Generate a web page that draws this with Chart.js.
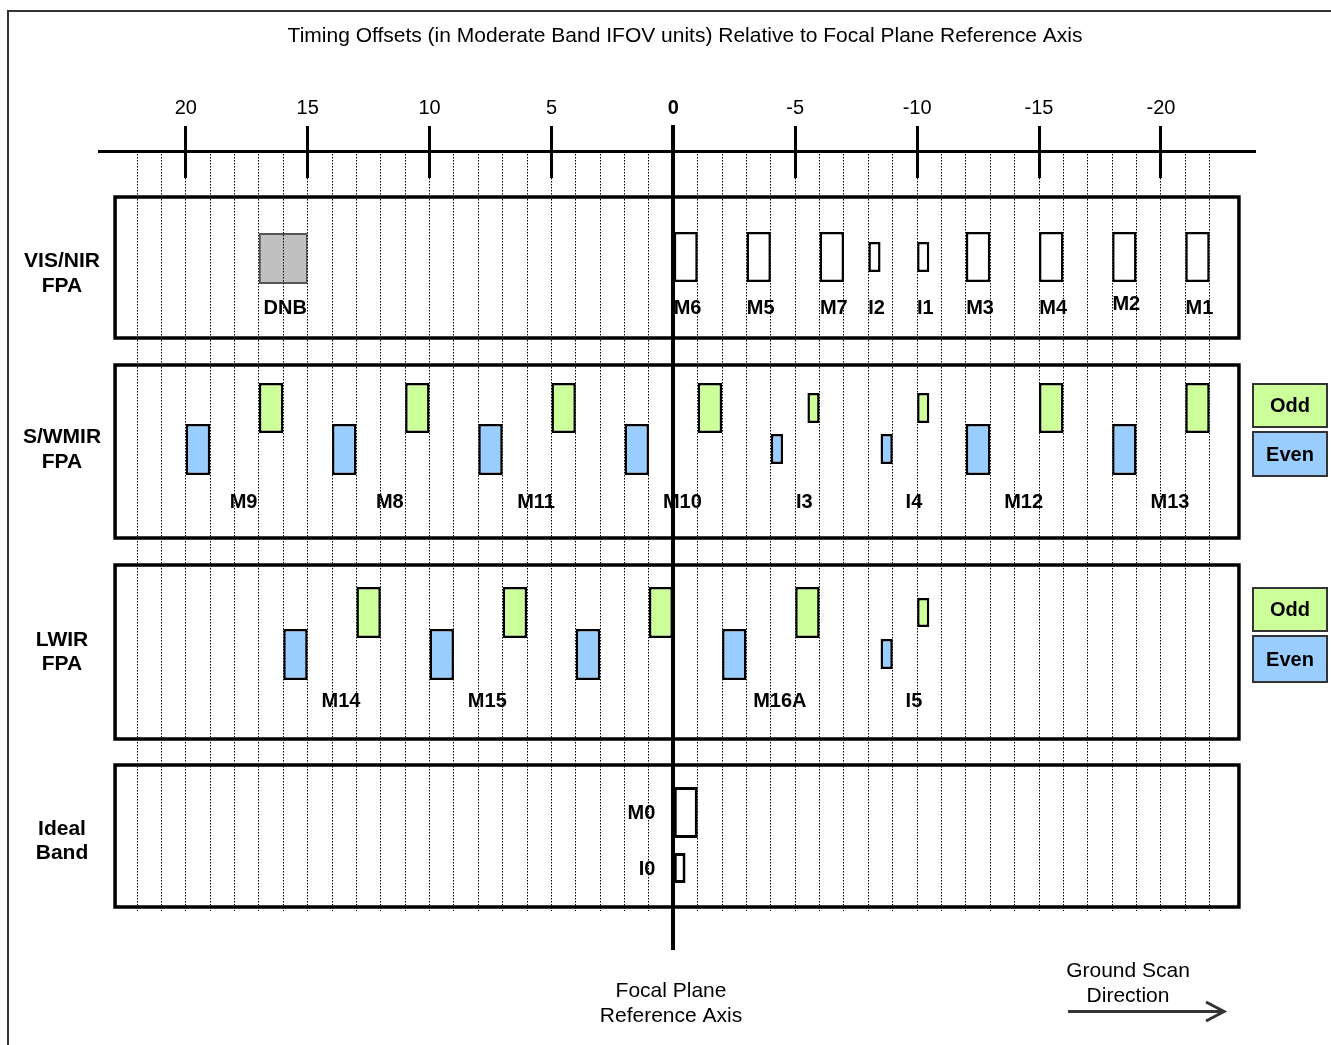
<!DOCTYPE html>
<html>
<head>
<meta charset="utf-8">
<title>Timing Offsets Relative to Focal Plane Reference Axis</title>
<script src="https://cdn.jsdelivr.net/npm/chart.js@4.4.0/dist/chart.umd.min.js"></script>
<style>
  html, body { margin: 0; padding: 0; background: #fff; }
  #wrap { width: 1331px; height: 1045px; }
</style>
</head>
<body>
<div id="wrap"><canvas id="fpaChart" width="1331" height="1045"></canvas></div>
<script>
// Offsets in moderate band IFOV units.
// Each detector column is given by its leading and trailing edge on the axis.

// VIS/NIR focal plane
const visBands = ['DNB', 'M6', 'M5', 'M7', 'I2', 'I1', 'M3', 'M4', 'M2', 'M1'];
const visFrom  = [17, 0, -3, -6, -8, -10, -12, -15, -18, -21];
const visTo    = [15, -1, -4, -7, -8.5, -10.5, -13, -16, -19, -22];

// S/WMIR focal plane, even and odd detectors
const swirBands    = ['M9', 'M8', 'M11', 'M10', 'I3', 'I4', 'M12', 'M13'];
const swirEvenFrom = [20, 14, 8, 2, -4, -8.5, -12, -18];
const swirEvenTo   = [19, 13, 7, 1, -4.5, -9, -13, -19];
const swirOddFrom  = [17, 11, 5, -1, -5.5, -10, -15, -21];
const swirOddTo    = [16, 10, 4, -2, -6, -10.5, -16, -22];

// LWIR focal plane (the first M16 pair carries no label in the figure)
const lwirBands    = ['M14', 'M15', '', 'M16A', 'I5'];
const lwirEvenFrom = [16, 10, 4, -2, -8.5];
const lwirEvenTo   = [15, 9, 3, -3, -9];
const lwirOddFrom  = [13, 7, 1, -5, -10];
const lwirOddTo    = [12, 6, 0, -6, -10.5];

// Ideal band
const idealBands = ['M0', 'I0'];
const idealFrom  = [0, 0];
const idealTo    = [-1, -0.5];

// Axis
const axisLabels = [20, 15, 10, 5, 0, -5, -10, -15, -20];
const gridValues = [];
for (let v = 22; v >= -22; v--) gridValues.push(v);

const FONT = "'Liberation Sans', Arial, sans-serif";
const GREEN = '#ccff99';
const BLUE = '#99ccff';

// vertical layout (pixels), kept apart from the data
const panels = [
  { top: 197, bottom: 338, name: ['VIS/NIR', 'FPA'], nameY: [261, 286] },
  { top: 365, bottom: 538, name: ['S/WMIR', 'FPA'], nameY: [437, 462] },
  { top: 565, bottom: 739, name: ['LWIR', 'FPA'], nameY: [640, 664] },
  { top: 765, bottom: 907, name: ['Ideal', 'Band'], nameY: [829, 853] }
];
const panelEdges = [22.9, -23.2];

const isI = n => n.startsWith('I');
const isM = n => !isI(n) && n !== 'DNB';

function spans(names, from, to, keep, yc) {
  const pts = [];
  names.forEach((n, i) => {
    if (keep(n)) pts.push({ x: [from[i], to[i]], y: yc });
  });
  return pts;
}

function barSet(label, data, thickness, fill, edge, width) {
  return {
    label: label,
    data: data,
    barThickness: thickness,
    backgroundColor: fill,
    borderColor: edge,
    borderWidth: width,
    borderSkipped: false,
    grouped: false,
    inflateAmount: 0
  };
}

const datasets = [
  barSet('VIS/NIR M', spans(visBands, visFrom, visTo, isM, 257), 50, '#fff', '#000', 2.5),
  barSet('VIS/NIR I', spans(visBands, visFrom, visTo, isI, 257), 30, '#fff', '#000', 2.5),
  barSet('DNB', spans(visBands, visFrom, visTo, n => n === 'DNB', 258.5), 51, '#c0c0c0', '#555', 2),

  barSet('S/WMIR odd M', spans(swirBands, swirOddFrom, swirOddTo, isM, 408), 50, GREEN, '#000', 2.5),
  barSet('S/WMIR odd I', spans(swirBands, swirOddFrom, swirOddTo, isI, 408), 30, GREEN, '#000', 2.5),
  barSet('S/WMIR even M', spans(swirBands, swirEvenFrom, swirEvenTo, isM, 449.5), 51, BLUE, '#000', 2.5),
  barSet('S/WMIR even I', spans(swirBands, swirEvenFrom, swirEvenTo, isI, 449), 30, BLUE, '#000', 2.5),

  barSet('LWIR odd M', spans(lwirBands, lwirOddFrom, lwirOddTo, isM, 612.5), 51, GREEN, '#000', 2.5),
  barSet('LWIR odd I', spans(lwirBands, lwirOddFrom, lwirOddTo, isI, 612.5), 29, GREEN, '#000', 2.5),
  barSet('LWIR even M', spans(lwirBands, lwirEvenFrom, lwirEvenTo, isM, 654.5), 51, BLUE, '#000', 2.5),
  barSet('LWIR even I', spans(lwirBands, lwirEvenFrom, lwirEvenTo, isI, 654), 30, BLUE, '#000', 2.5),

  barSet('Ideal M', spans(idealBands, idealFrom, idealTo, isM, 812.5), 51, '#fff', '#000', 3),
  barSet('Ideal I', spans(idealBands, idealFrom, idealTo, isI, 868), 30, '#fff', '#000', 3)
];

function alignPx(p, w) {
  return Math.round(p - w / 2) + w / 2;
}

function text(ctx, str, x, y, font, align) {
  ctx.font = font;
  ctx.textAlign = align || 'center';
  ctx.textBaseline = 'middle';
  ctx.fillStyle = '#000';
  ctx.fillText(str, x, y);
}

function legendBox(ctx, top, bottom, fill, label) {
  ctx.fillStyle = fill;
  ctx.fillRect(1253, top, 74, bottom - top);
  ctx.lineWidth = 2;
  ctx.strokeStyle = '#333';
  ctx.strokeRect(1253, top, 74, bottom - top);
  text(ctx, label, 1290, (top + bottom) / 2 + 1, `bold 20px ${FONT}`);
}

// panels, row names and band names sit under the bars and the dotted grid
const fpaDecor = {
  id: 'fpaDecor',
  beforeDatasetsDraw(chart) {
    const { ctx } = chart;
    const x = chart.scales.x;
    const px = v => x.getPixelForValue(v);
    const bold = `bold 20px ${FONT}`;
    const rowFont = `bold 21px ${FONT}`;
    ctx.save();

    const l = px(panelEdges[0]);
    const r = px(panelEdges[1]);
    ctx.lineWidth = 3.5;
    ctx.strokeStyle = '#000';
    panels.forEach(p => {
      ctx.strokeRect(l, p.top, r - l, p.bottom - p.top);
      p.name.forEach((t, k) => text(ctx, t, 62, p.nameY[k], rowFont));
    });

    visBands.forEach((b, i) => {
      const y = b === 'M2' ? 304 : 308;
      text(ctx, b, px((visFrom[i] + visTo[i]) / 2) + 2, y, bold);
    });
    swirBands.forEach((b, i) => {
      const mid = (swirEvenFrom[i] + swirEvenTo[i] + swirOddFrom[i] + swirOddTo[i]) / 4;
      text(ctx, b, px(mid) + 9, 502, bold);
    });
    lwirBands.forEach((b, i) => {
      if (!b) return;
      const mid = (lwirEvenFrom[i] + lwirEvenTo[i] + lwirOddFrom[i] + lwirOddTo[i]) / 4;
      text(ctx, b, px(mid) + 9, 701, bold);
    });
    const idealY = [813, 869];
    idealBands.forEach((b, i) => {
      text(ctx, b, px(idealFrom[i]) - 18, idealY[i], bold, 'right');
    });
    ctx.restore();
  },
  afterDraw(chart) {
    const { ctx } = chart;
    const x = chart.scales.x;
    const area = chart.chartArea;
    ctx.save();
    ctx.strokeStyle = '#000';

    // axis line
    ctx.lineWidth = 3;
    ctx.beginPath();
    ctx.moveTo(area.left, alignPx(area.top, 3));
    ctx.lineTo(area.right, alignPx(area.top, 3));
    ctx.stroke();

    // reference axis through zero
    const x0 = alignPx(x.getPixelForValue(0), 4);
    ctx.lineWidth = 4;
    ctx.beginPath();
    ctx.moveTo(x0, 125);
    ctx.lineTo(x0, 950);
    ctx.stroke();

    // major ticks continue a little below the axis line
    ctx.lineWidth = 3;
    axisLabels.forEach(v => {
      if (v === 0) return;
      const xp = alignPx(x.getPixelForValue(v), 3);
      ctx.beginPath();
      ctx.moveTo(xp, area.top - 2);
      ctx.lineTo(xp, 178);
      ctx.stroke();
    });

    // title
    text(ctx, 'Timing Offsets (in Moderate Band IFOV units) Relative to Focal Plane Reference Axis',
      685, 36, `21px ${FONT}`);

    // odd / even keys
    legendBox(ctx, 384, 427, GREEN, 'Odd');
    legendBox(ctx, 432, 476, BLUE, 'Even');
    legendBox(ctx, 588, 631, GREEN, 'Odd');
    legendBox(ctx, 636, 682, BLUE, 'Even');

    // bottom notes
    const plain = `21px ${FONT}`;
    text(ctx, 'Focal Plane', 671, 991, plain);
    text(ctx, 'Reference Axis', 671, 1016, plain);
    text(ctx, 'Ground Scan', 1128, 971, plain);
    text(ctx, 'Direction', 1128, 996, plain);

    ctx.lineWidth = 3;
    ctx.beginPath();
    ctx.moveTo(1068, 1011.5);
    ctx.lineTo(1222, 1011.5);
    ctx.stroke();
    ctx.beginPath();
    ctx.moveTo(1206, 1002);
    ctx.lineTo(1224, 1011.5);
    ctx.lineTo(1206, 1021);
    ctx.stroke();

    // outer frame
    ctx.lineWidth = 2;
    ctx.beginPath();
    ctx.moveTo(8, 1045);
    ctx.lineTo(8, 11);
    ctx.lineTo(1331, 11);
    ctx.stroke();

    ctx.restore();
  }
};

const chartCtx = document.getElementById('fpaChart').getContext('2d');
new Chart(chartCtx, {
  type: 'bar',
  data: { datasets: datasets },
  options: {
    indexAxis: 'y',
    responsive: false,
    animation: false,
    events: [],
    layout: { padding: { left: 98, right: 75, top: 0, bottom: 134 } },
    plugins: {
      legend: { display: false },
      tooltip: { enabled: false },
      title: { display: false }
    },
    scales: {
      x: {
        type: 'linear',
        position: 'top',
        reverse: true,
        min: -23.9,
        max: 23.6,
        afterBuildTicks: scale => {
          scale.ticks = gridValues.map(v => ({ value: v }));
        },
        afterFit: scale => {
          scale.height = 151;
        },
        ticks: {
          autoSkip: false,
          maxRotation: 0,
          padding: 6,
          color: '#000',
          font: c => ({
            family: FONT,
            size: 20,
            weight: c.tick && c.tick.value === 0 ? 'bold' : 'normal'
          }),
          callback: v => axisLabels.includes(v) ? String(v) : ''
        },
        grid: {
          z: 1,
          lineWidth: 1,
          color: c => (c.tick && c.tick.value === 0) ? 'rgba(0,0,0,0)' : '#000',
          tickLength: 25,
          tickWidth: 3,
          tickColor: c => (c.tick && axisLabels.includes(c.tick.value)) ? '#000' : 'rgba(0,0,0,0)'
        },
        border: { display: false, dash: [1.5, 1.5] }
      },
      y: {
        type: 'linear',
        display: false,
        reverse: true,
        offset: false,
        min: 151,
        max: 911
      }
    }
  },
  plugins: [fpaDecor]
});
</script>
</body>
</html>
